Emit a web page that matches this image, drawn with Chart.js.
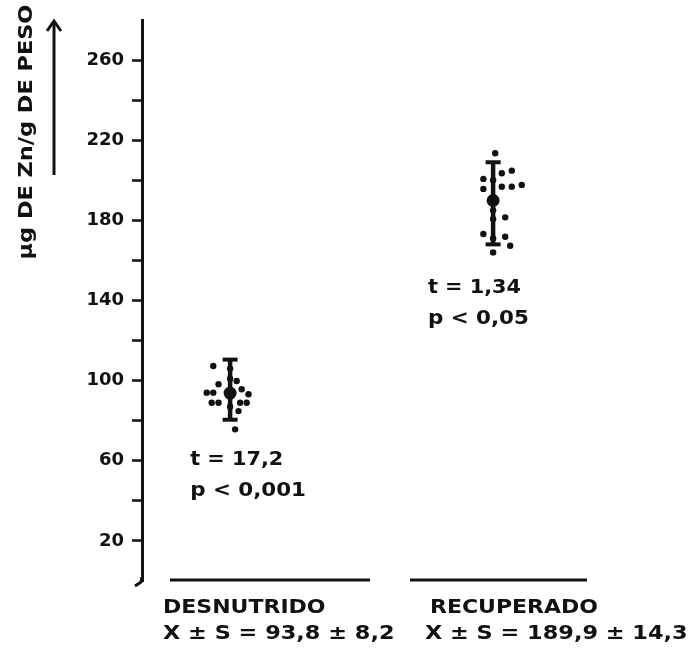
<!DOCTYPE html>
<html>
<head>
<meta charset="utf-8">
<script src="https://cdn.jsdelivr.net/npm/chart.js@4.4.0/dist/chart.umd.min.js"></script>
<style>
  html, body { margin: 0; padding: 0; background: #fff; }
  #wrap { width: 695px; height: 649px; }
</style>
</head>
<body>
<div id="wrap"><canvas id="zinc"></canvas></div>
<script>
// groups on the x axis (1 and 2), values in ug Zn / g
const groups = ["DESNUTRIDO", "RECUPERADO"];
const groupX = [1, 2];
const means = [93.8, 189.9];
const sds = [8.2, 14.3];
const barLow = [80.5, 168];
const barHigh = [110.5, 209];
const tValues = ["17,2", "1,34"];
const pValues = ["0,001", "0,05"];

// individual values, with their sideways jitter
const desnutridoValues = [107.3, 98.2, 94, 94, 95.7, 93.2, 99.8, 89, 89, 89, 89, 84.8, 75.7, 106, 101, 87];
const desnutridoJitter = [-0.064, -0.044, -0.089, -0.064, 0.044, 0.07, 0.025, -0.07, -0.044, 0.038, 0.063, 0.032, 0.019, 0, 0, 0];
const recuperadoValues = [213.5, 204.8, 203.5, 200.7, 195.7, 196.8, 196.8, 197.7, 180.7, 181.5, 173.2, 171, 171.8, 167.3, 164, 200, 185];
const recuperadoJitter = [0.008, 0.071, 0.033, -0.037, -0.037, 0.033, 0.071, 0.109, 0, 0.046, -0.037, 0, 0.046, 0.065, 0, 0, 0];

const yTicks = [20, 60, 100, 140, 180, 220, 260];

const ink = "#111";
const font = "DejaVu Sans";

function pts(values, jitter, gx) {
  return values.map((v, i) => ({ x: gx + jitter[i], y: v }));
}

const datasets = [
  { data: pts(desnutridoValues, desnutridoJitter, groupX[0]), pointRadius: 3.2 },
  { data: pts(recuperadoValues, recuperadoJitter, groupX[1]), pointRadius: 3.2 },
  { data: groupX.map((x, i) => ({ x: x, y: means[i] })), pointRadius: 6.5 },
].map(d => Object.assign({
  type: "scatter", backgroundColor: ink, borderColor: ink, pointBorderWidth: 0, pointHoverRadius: d.pointRadius
}, d));

groupX.forEach((x, i) => {
  datasets.push({
    type: "line",
    data: [{ x: x, y: barLow[i] }, { x: x, y: barHigh[i] }],
    borderColor: ink, borderWidth: 4.5,
    pointStyle: "line", pointRadius: 7.5, pointBorderWidth: 4, pointBorderColor: ink
  });
});

// the scanned lettering is a little wider than the font, so stretch it sideways
function wideText(ctx, text, x, y, sx) {
  ctx.save();
  ctx.translate(x, y);
  ctx.scale(sx, 1);
  ctx.fillText(text, 0, 0);
  ctx.restore();
}

const decorations = {
  id: "decorations",
  afterDraw(chart) {
    const { ctx, chartArea } = chart;
    const xs = chart.scales.x, ys = chart.scales.y;
    ctx.save();
    ctx.fillStyle = ink;
    ctx.strokeStyle = ink;

    // y title, rotated, with its arrow
    ctx.save();
    ctx.translate(27, 132);
    ctx.rotate(-Math.PI / 2);
    ctx.font = "bold 20px '" + font + "'";
    ctx.textAlign = "center";
    ctx.textBaseline = "middle";
    wideText(ctx, "\u03bcg DE Zn/g DE PESO", 0, 0, 1.12);
    ctx.restore();

    ctx.lineWidth = 3;
    ctx.beginPath();
    ctx.moveTo(54, 175);
    ctx.lineTo(54, 22);
    ctx.stroke();
    ctx.beginPath();
    ctx.moveTo(47, 31);
    ctx.lineTo(54, 21);
    ctx.lineTo(61, 31);
    ctx.stroke();

    // little hook at the foot of the axis
    ctx.beginPath();
    ctx.moveTo(chartArea.left, chartArea.bottom - 4);
    ctx.lineTo(chartArea.left - 1, chartArea.bottom + 1);
    ctx.lineTo(chartArea.left - 7, chartArea.bottom + 5);
    ctx.stroke();

    // underline of each group
    const spans = [[0.771, 1.532], [1.684, 2.357]];
    ctx.lineWidth = 3;
    spans.forEach(s => {
      ctx.beginPath();
      ctx.moveTo(xs.getPixelForValue(s[0]), chartArea.bottom - 1);
      ctx.lineTo(xs.getPixelForValue(s[1]), chartArea.bottom - 1);
      ctx.stroke();
    });

    // t and p beside each group
    ctx.font = "bold 20px '" + font + "'";
    ctx.textAlign = "left";
    ctx.textBaseline = "middle";
    const statPos = [[0.848, 60.4], [1.752, 146.2]];
    statPos.forEach((p, i) => {
      const x = xs.getPixelForValue(p[0]);
      const y = ys.getPixelForValue(p[1]);
      wideText(ctx, "t = " + tValues[i], x, y, 1.04);
      wideText(ctx, "p < " + pValues[i], x, y + 31, 1.07);
    });

    // group names and mean +/- s
    const labelX = [0.745, 1.76];
    groups.forEach((g, i) => {
      const x = xs.getPixelForValue(labelX[i]);
      wideText(ctx, g, x, chartArea.bottom + 27, 1.1);
      wideText(ctx, "X \u00b1 S = " + String(means[i]).replace(".", ",") + " \u00b1 " +
        String(sds[i]).replace(".", ","), x - (i ? 5 : 0), chartArea.bottom + 53, 1.12);
    });
    ctx.restore();
  }
};

new Chart(document.getElementById("zinc"), {
  type: "scatter",
  data: { datasets: datasets },
  options: {
    responsive: true,
    maintainAspectRatio: false,
    animation: false,
    layout: { padding: { top: 20, right: 27, bottom: 68, left: 0 } },
    plugins: { legend: { display: false }, tooltip: { enabled: false } },
    scales: {
      x: { type: "linear", display: false, min: 0.665, max: 2.665 },
      y: {
        min: 0, max: 280,
        afterFit(scale) { scale.width = 142; },
        border: { display: true, color: ink, width: 3 },
        grid: {
          drawOnChartArea: false, drawTicks: true, tickLength: 10, tickWidth: 2.5,
          tickColor: c => (c.tick && (c.tick.value === 0 || c.tick.value === 280)) ? "rgba(0,0,0,0)" : ink
        },
        ticks: {
          stepSize: 20, padding: 8, color: ink,
          font: { family: font, size: 18, weight: "bold" },
          callback: v => yTicks.includes(v) ? String(v) : ""
        }
      }
    }
  },
  plugins: [decorations]
});
</script>
</body>
</html>
